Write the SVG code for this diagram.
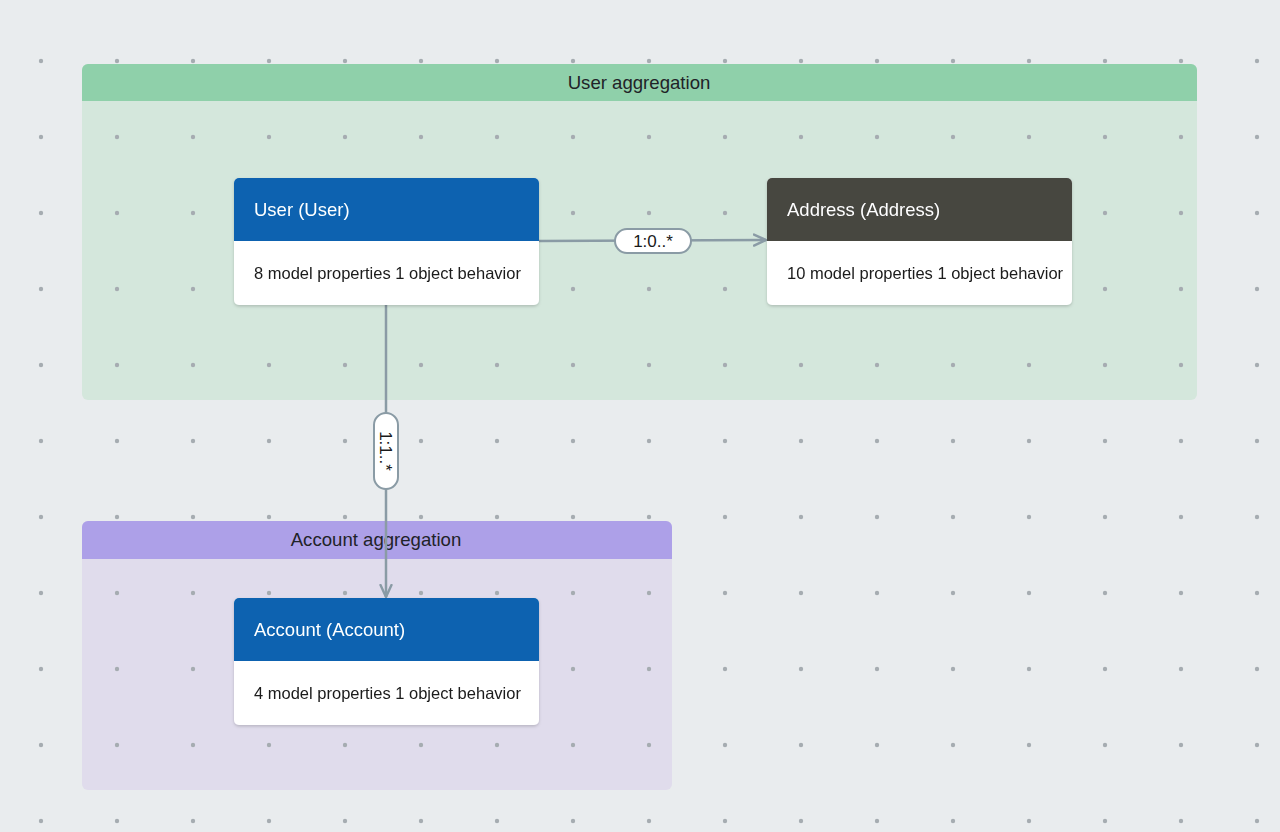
<svg xmlns="http://www.w3.org/2000/svg" width="1280" height="832" viewBox="0 0 1280 832">
<defs>
<pattern id="dots" x="0" y="0" width="76" height="76" patternUnits="userSpaceOnUse" patternTransform="translate(41 61)">
<circle cx="0" cy="0" r="2.2" fill="#A6ACB1"/>
<circle cx="76" cy="0" r="2.2" fill="#A6ACB1"/>
<circle cx="0" cy="76" r="2.2" fill="#A6ACB1"/>
<circle cx="76" cy="76" r="2.2" fill="#A6ACB1"/>
</pattern>
<marker id="arrow" viewBox="0 0 14 14" refX="13" refY="7" markerWidth="14" markerHeight="14" markerUnits="userSpaceOnUse" orient="auto">
<path d="M1,1.5 L13,7 L1,12.5" fill="none" stroke="#8A9BA5" stroke-width="2.4" stroke-linecap="round" stroke-linejoin="round"/>
</marker>
<filter id="shadow" x="-10%" y="-10%" width="120%" height="130%">
<feDropShadow dx="0" dy="1.5" stdDeviation="1.5" flood-color="#000" flood-opacity="0.18"/>
</filter>
</defs>
<style>
text{font-family:"Liberation Sans",Arial,sans-serif;}
.gtitle{font-size:18.6px;fill:#1f2328;text-anchor:middle;}
.ntitle{font-size:18.5px;fill:#ffffff;}
.nbody{font-size:16.5px;fill:#1a1a1a;}
.edge{fill:none;stroke:#8A9BA5;stroke-width:2.5;}
.pill{fill:#ffffff;stroke:#8A9BA5;stroke-width:2;}
.elabel{font-size:17px;fill:#1a1a1a;text-anchor:middle;}
</style>
<rect width="1280" height="832" fill="#E9ECEE"/>
<g id="group-user">
<rect x="82" y="64" width="1115" height="336" rx="6" fill="#D4E7DC"/>
</g>
<g id="group-account">
<rect x="82" y="521" width="590" height="269" rx="6" fill="#E0DCEC"/>
</g>
<rect width="1280" height="832" fill="url(#dots)"/>
<g id="group-user-header">
<path d="M88,64 H1191 A6,6 0 0 1 1197,70 V101 H82 V70 A6,6 0 0 1 88,64 Z" fill="#8FD0AA"/>
<text class="gtitle" x="639" y="89">User aggregation</text>
</g>
<g id="group-account-header">
<path d="M88,521 H666 A6,6 0 0 1 672,527 V559 H82 V527 A6,6 0 0 1 88,521 Z" fill="#ADA0E8"/>
<text class="gtitle" x="376" y="546">Account aggregation</text>
</g>
<g id="connectors">
<line class="edge" x1="539" y1="241" x2="766" y2="240" marker-end="url(#arrow)"/>
<rect class="pill" x="615" y="229" width="76" height="24" rx="12"/>
<text class="elabel" x="653" y="247">1:0..*</text>
<line class="edge" x1="386" y1="305" x2="386" y2="597" marker-end="url(#arrow)"/>
<rect class="pill" x="374" y="413" width="24" height="76" rx="12"/>
<text class="elabel" transform="translate(380 451) rotate(90)" x="0" y="0">1:1..*</text>
</g>
<g id="node-user" filter="url(#shadow)">
<rect x="234" y="178" width="305" height="127" rx="5" fill="#ffffff"/>
<path d="M239,178 H534 A5,5 0 0 1 539,183 V241 H234 V183 A5,5 0 0 1 239,178 Z" fill="#0862B0"/>
<text class="ntitle" x="254" y="216">User (User)</text>
<text class="nbody" x="254" y="279">8 model properties 1 object behavior</text>
</g>
<g id="node-address" filter="url(#shadow)">
<rect x="767" y="178" width="305" height="127" rx="5" fill="#ffffff"/>
<path d="M772,178 H1067 A5,5 0 0 1 1072,183 V241 H767 V183 A5,5 0 0 1 772,178 Z" fill="#464641"/>
<text class="ntitle" x="787" y="216">Address (Address)</text>
<text class="nbody" x="787" y="279">10 model properties 1 object behavior</text>
</g>
<g id="node-account" filter="url(#shadow)">
<rect x="234" y="598" width="305" height="127" rx="5" fill="#ffffff"/>
<path d="M239,598 H534 A5,5 0 0 1 539,603 V661 H234 V603 A5,5 0 0 1 239,598 Z" fill="#0862B0"/>
<text class="ntitle" x="254" y="636">Account (Account)</text>
<text class="nbody" x="254" y="699">4 model properties 1 object behavior</text>
</g>
</svg>
